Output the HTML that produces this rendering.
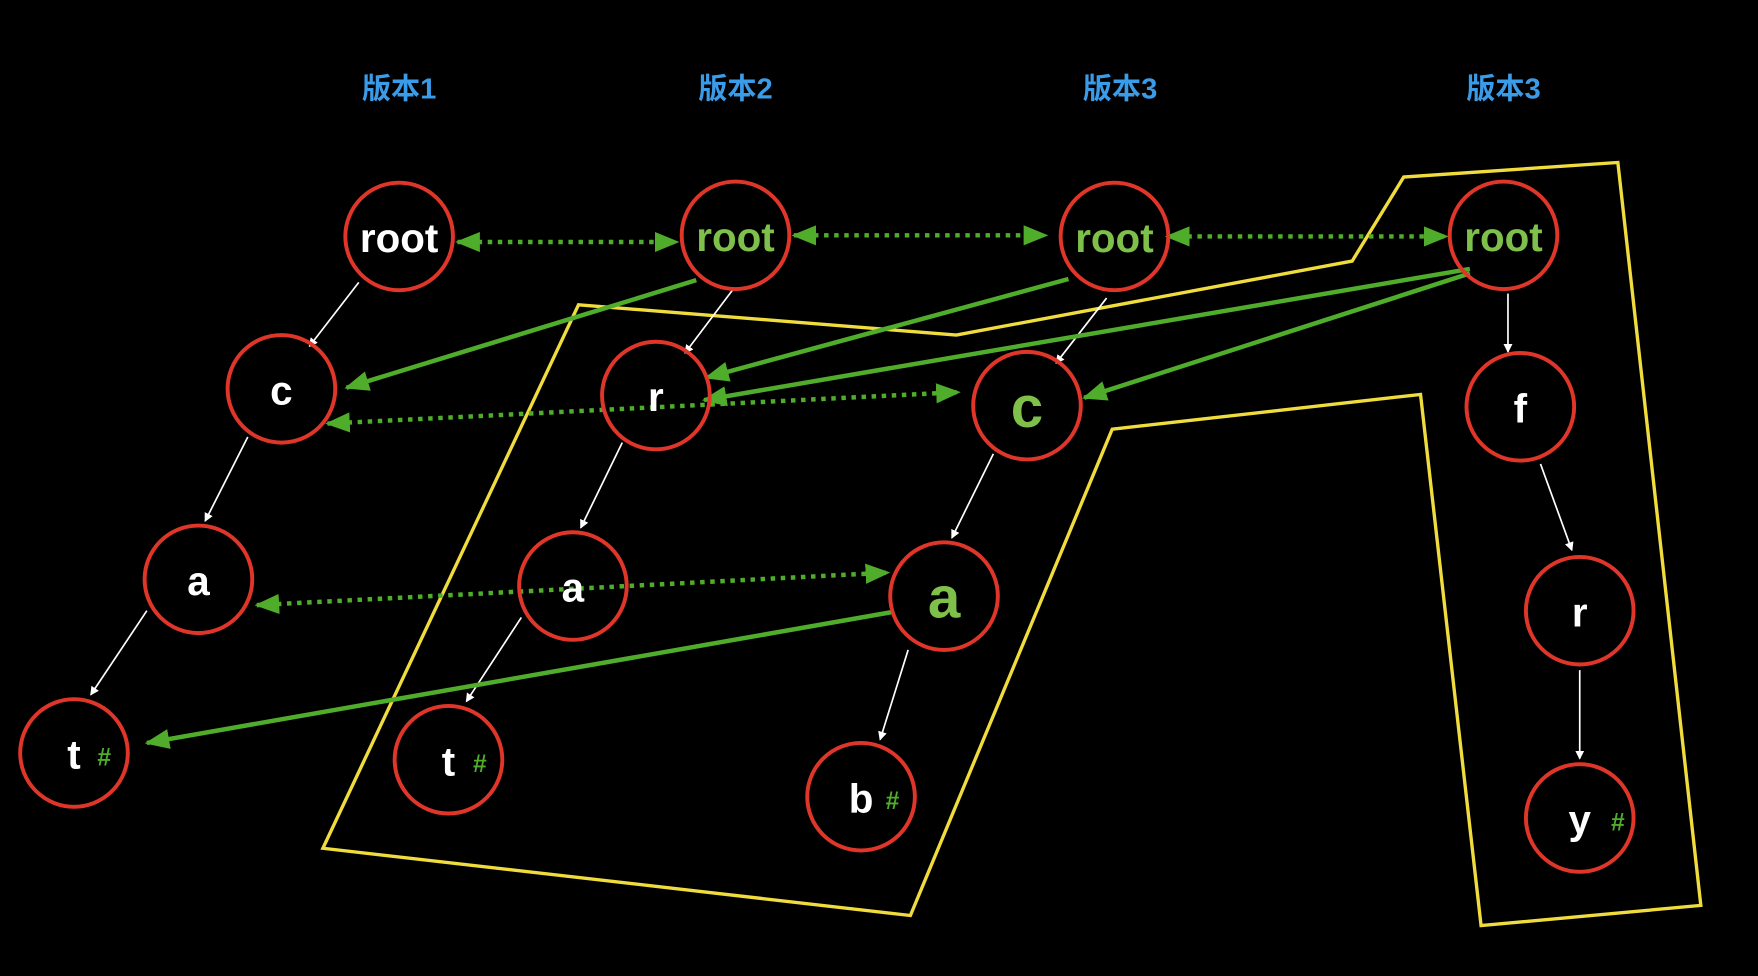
<!DOCTYPE html>
<html><head><meta charset="utf-8"><style>
html,body{margin:0;padding:0;background:#000;width:1758px;height:976px;overflow:hidden}
svg{display:block}
text{font-family:"Liberation Sans","Noto Sans CJK SC",sans-serif;font-weight:bold;text-anchor:middle}
</style></head><body>
<svg width="1758" height="976" viewBox="0 0 1568 871" preserveAspectRatio="none" xmlns="http://www.w3.org/2000/svg">
<defs>
<marker id="wa" markerWidth="8" markerHeight="8" refX="7" refY="4" orient="auto" markerUnits="userSpaceOnUse"><path d="M0,0 L8,4 L0,8 Z" fill="#fff"/></marker>
<marker id="ga" markerWidth="22" markerHeight="18" refX="20" refY="9" orient="auto" markerUnits="userSpaceOnUse"><path d="M0,0 L22,9 L0,18 Z" fill="#4fad2b"/></marker>
<marker id="gs" markerWidth="22" markerHeight="18" refX="2" refY="9" orient="auto" markerUnits="userSpaceOnUse"><path d="M22,0 L0,9 L22,18 Z" fill="#4fad2b"/></marker>
</defs>
<rect width="1568" height="871" fill="#000"/>
<g fill="#3a9be8" font-size="26">
<text x="356" y="88">版本1</text><text x="656" y="88">版本2</text><text x="999" y="88">版本3</text><text x="1341" y="88">版本3</text>
</g>
<polygon points="516,272 853,299 1206,233 1252,158 1443,145 1517,808 1321,826 1267,352 992,383 812,817 288,757" fill="none" stroke="#f0dc3c" stroke-width="3"/>
<g stroke="#fff" stroke-width="1.5" marker-end="url(#wa)">
<line x1="320" y1="252" x2="276" y2="309"/><line x1="221" y1="390" x2="183" y2="465"/><line x1="131" y1="545" x2="81" y2="620"/>
<line x1="654" y1="258" x2="611" y2="315"/><line x1="555" y1="395" x2="518" y2="471"/><line x1="465" y1="551" x2="416" y2="626"/>
<line x1="987" y1="266" x2="942" y2="324"/><line x1="886" y1="405" x2="849" y2="480"/><line x1="810" y1="580" x2="785" y2="660"/>
<line x1="1345" y1="262" x2="1345" y2="314"/><line x1="1374" y1="414" x2="1402" y2="491"/><line x1="1409" y1="598" x2="1409" y2="677"/>
</g>
<g stroke="#4fad2b" stroke-width="4" stroke-dasharray="4,5" marker-end="url(#ga)" marker-start="url(#gs)">
<line x1="408" y1="216" x2="604" y2="216"/><line x1="708" y1="210" x2="933" y2="210"/><line x1="1041" y1="211" x2="1290" y2="211"/>
<line x1="292" y1="378" x2="855" y2="350"/><line x1="229" y1="540" x2="792" y2="511"/>
</g>
<g stroke="#4fad2b" stroke-width="4" marker-end="url(#ga)">
<line x1="621" y1="250" x2="309" y2="346"/><line x1="953" y1="249" x2="630" y2="337"/><line x1="1311" y1="240" x2="628" y2="357"/>
<line x1="1311" y1="244" x2="967" y2="355"/><line x1="797" y1="546" x2="131" y2="663"/>
</g>
<g fill="none" stroke="#e0362a" stroke-width="3.5">
<circle cx="356" cy="211" r="48"/><circle cx="656" cy="210" r="48"/><circle cx="994" cy="211" r="48"/><circle cx="1341" cy="210" r="48"/>
<circle cx="251" cy="347" r="48"/><circle cx="585" cy="353" r="48"/><circle cx="916" cy="362" r="48"/><circle cx="1356" cy="363" r="48"/>
<circle cx="177" cy="517" r="48"/><circle cx="511" cy="523" r="48"/><circle cx="842" cy="532" r="48"/><circle cx="1409" cy="545" r="48"/>
<circle cx="66" cy="672" r="48"/><circle cx="400" cy="678" r="48"/><circle cx="768" cy="711" r="48"/><circle cx="1409" cy="730" r="48"/>
</g>
<g font-size="36" fill="#fff">
<text x="356" y="225">root</text>
<text fill="#7ec04a" x="656" y="224">root</text><text fill="#7ec04a" x="994" y="225">root</text><text fill="#7ec04a" x="1341" y="224">root</text>
<text x="251" y="361">c</text><text x="585" y="367">r</text><text x="1356" y="377">f</text>
<text x="177" y="531">a</text><text x="511" y="537">a</text><text x="1409" y="559">r</text>
<text x="66" y="686">t</text><text x="400" y="692">t</text><text x="768" y="725">b</text><text x="1409" y="744">y</text>
<text fill="#7ec04a" font-size="52" x="916" y="381">c</text><text fill="#7ec04a" font-size="52" x="842" y="551">a</text>
</g>
<g font-size="22" fill="#4fad2b">
<text x="93" y="683">#</text><text x="428" y="689">#</text><text x="796" y="722">#</text><text x="1443" y="741">#</text>
</g>
</svg>
</body></html>
